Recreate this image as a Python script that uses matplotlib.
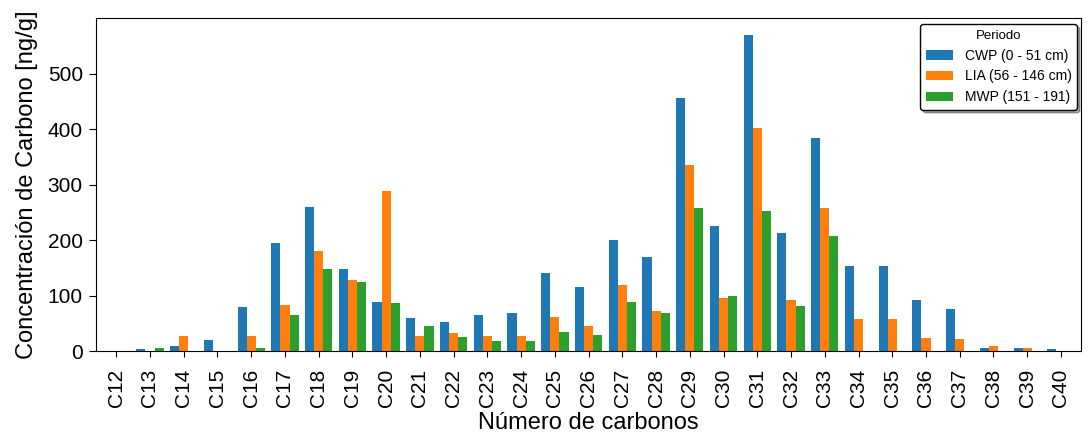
import matplotlib.pyplot as plt
import numpy as np

plt.rcParams['font.family'] = ['Liberation Sans', 'DejaVu Sans']

carbonos = ['C%d' % i for i in range(12, 41)]

# Concentracion por periodo [ng/g]
cwp = [0, 3, 10, 21, 80, 195, 260, 148, 88, 60, 52, 65, 68, 140, 115,
       200, 170, 457, 226, 570, 213, 384, 153, 153, 92, 76, 5, 5, 3]
lia = [0, 0, 27, 0, 27, 83, 180, 128, 288, 27, 32, 28, 28, 62, 45,
       120, 73, 335, 95, 402, 93, 258, 58, 58, 24, 22, 9, 5, 0]
mwp = [0, 5, 0, 0, 5, 65, 148, 125, 87, 45, 25, 18, 18, 35, 30,
       88, 68, 258, 100, 253, 82, 208, 0, 0, 0, 0, 0, 0, 0]

x = np.arange(len(carbonos))
w = 0.27

fig = plt.figure(figsize=(10.91, 4.33), dpi=100)
ax = fig.add_axes([0.088, 0.189, 0.903, 0.769])

ax.bar(x - w, cwp, w, color='#1f77b4', label='CWP (0 - 51 cm)')
ax.bar(x, lia, w, color='#ff7f0e', label='LIA (56 - 146 cm)')
ax.bar(x + w, mwp, w, color='#2ca02c', label='MWP (151 - 191)')

ax.set_xticks(x)
ax.set_xticklabels(carbonos, rotation=90, fontsize=15)
ax.tick_params(axis='x', length=4.5, pad=8)
ax.tick_params(axis='y', labelsize=15, length=5, pad=4.5)
ax.set_xlim(-0.6, 28.6)
ax.set_ylim(0, 600)
ax.set_yticks([0, 100, 200, 300, 400, 500])
ax.set_xlabel('Número de carbonos', fontsize=17, labelpad=4)
ax.set_ylabel('Concentración de Carbono [ng/g]', fontsize=17, labelpad=7)

leg = ax.legend(title='Periodo', fontsize=10, title_fontsize=9.5, loc='upper right',
                shadow=True, fancybox=True, framealpha=1, borderaxespad=0.3,
                handletextpad=0.8, borderpad=0.4, bbox_to_anchor=(1.0, 0.995))
leg.get_frame().set_edgecolor('black')

fig.savefig('out.png', dpi=100)
